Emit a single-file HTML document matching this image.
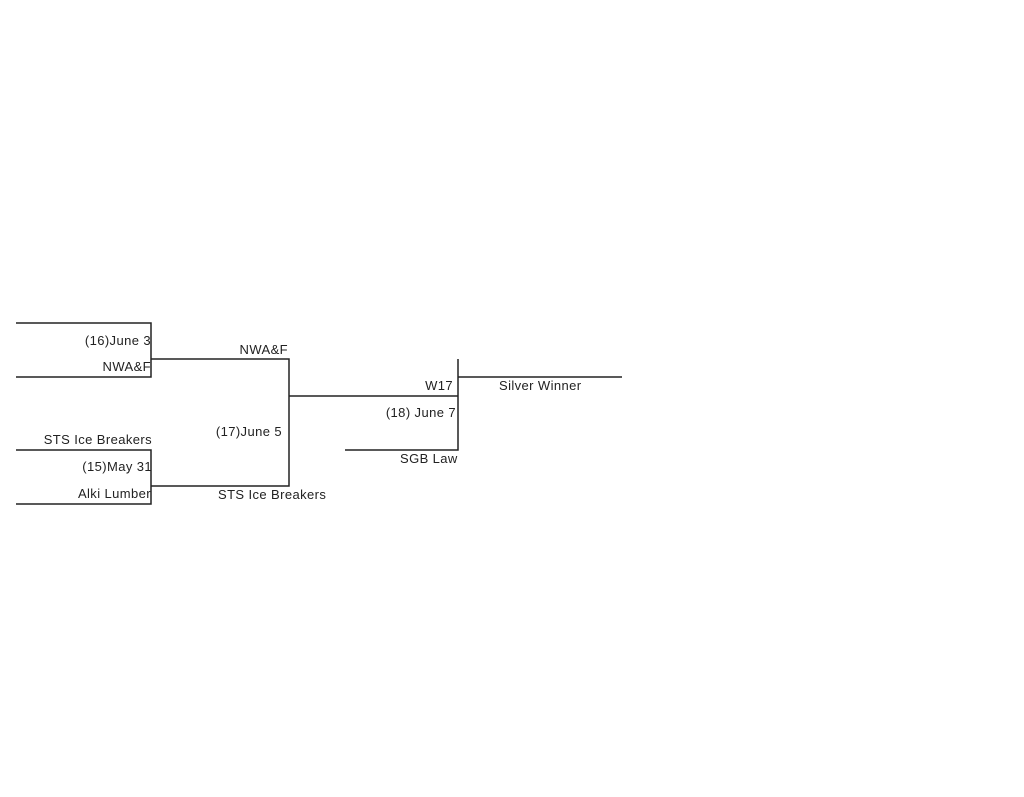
<!DOCTYPE html>
<html><head><style>
body{margin:0;background:#fff;width:1024px;height:792px;overflow:hidden}
svg text{font-family:"Liberation Sans",sans-serif;font-size:13px;fill:#222;letter-spacing:0.4px}
</style></head><body>
<svg width="1024" height="792" xmlns="http://www.w3.org/2000/svg">
<g stroke="#222" stroke-width="1.5" fill="none">
<polyline points="16,323 151,323 151,377 16,377"/>
<polyline points="16,450 151,450 151,504 16,504"/>
<polyline points="151,359 289,359 289,486 151,486"/>
<line x1="289" y1="396" x2="458" y2="396"/>
<polyline points="345,450 458,450 458,359"/>
<line x1="458" y1="377" x2="622" y2="377"/>
</g>
<g text-anchor="end">
<text x="151" y="345">(16)June 3</text>
<text x="151" y="371">NWA&amp;F</text>
<text x="288" y="354">NWA&amp;F</text>
<text x="152" y="444">STS Ice Breakers</text>
<text x="152" y="471">(15)May 31</text>
<text x="151" y="498">Alki Lumber</text>
<text x="282" y="436">(17)June 5</text>
<text x="453" y="390">W17</text>
<text x="456" y="417">(18) June 7</text>
</g>
<text x="218" y="499">STS Ice Breakers</text>
<text x="400" y="463">SGB Law</text>
<text x="499" y="390">Silver Winner</text>
</svg>
</body></html>
